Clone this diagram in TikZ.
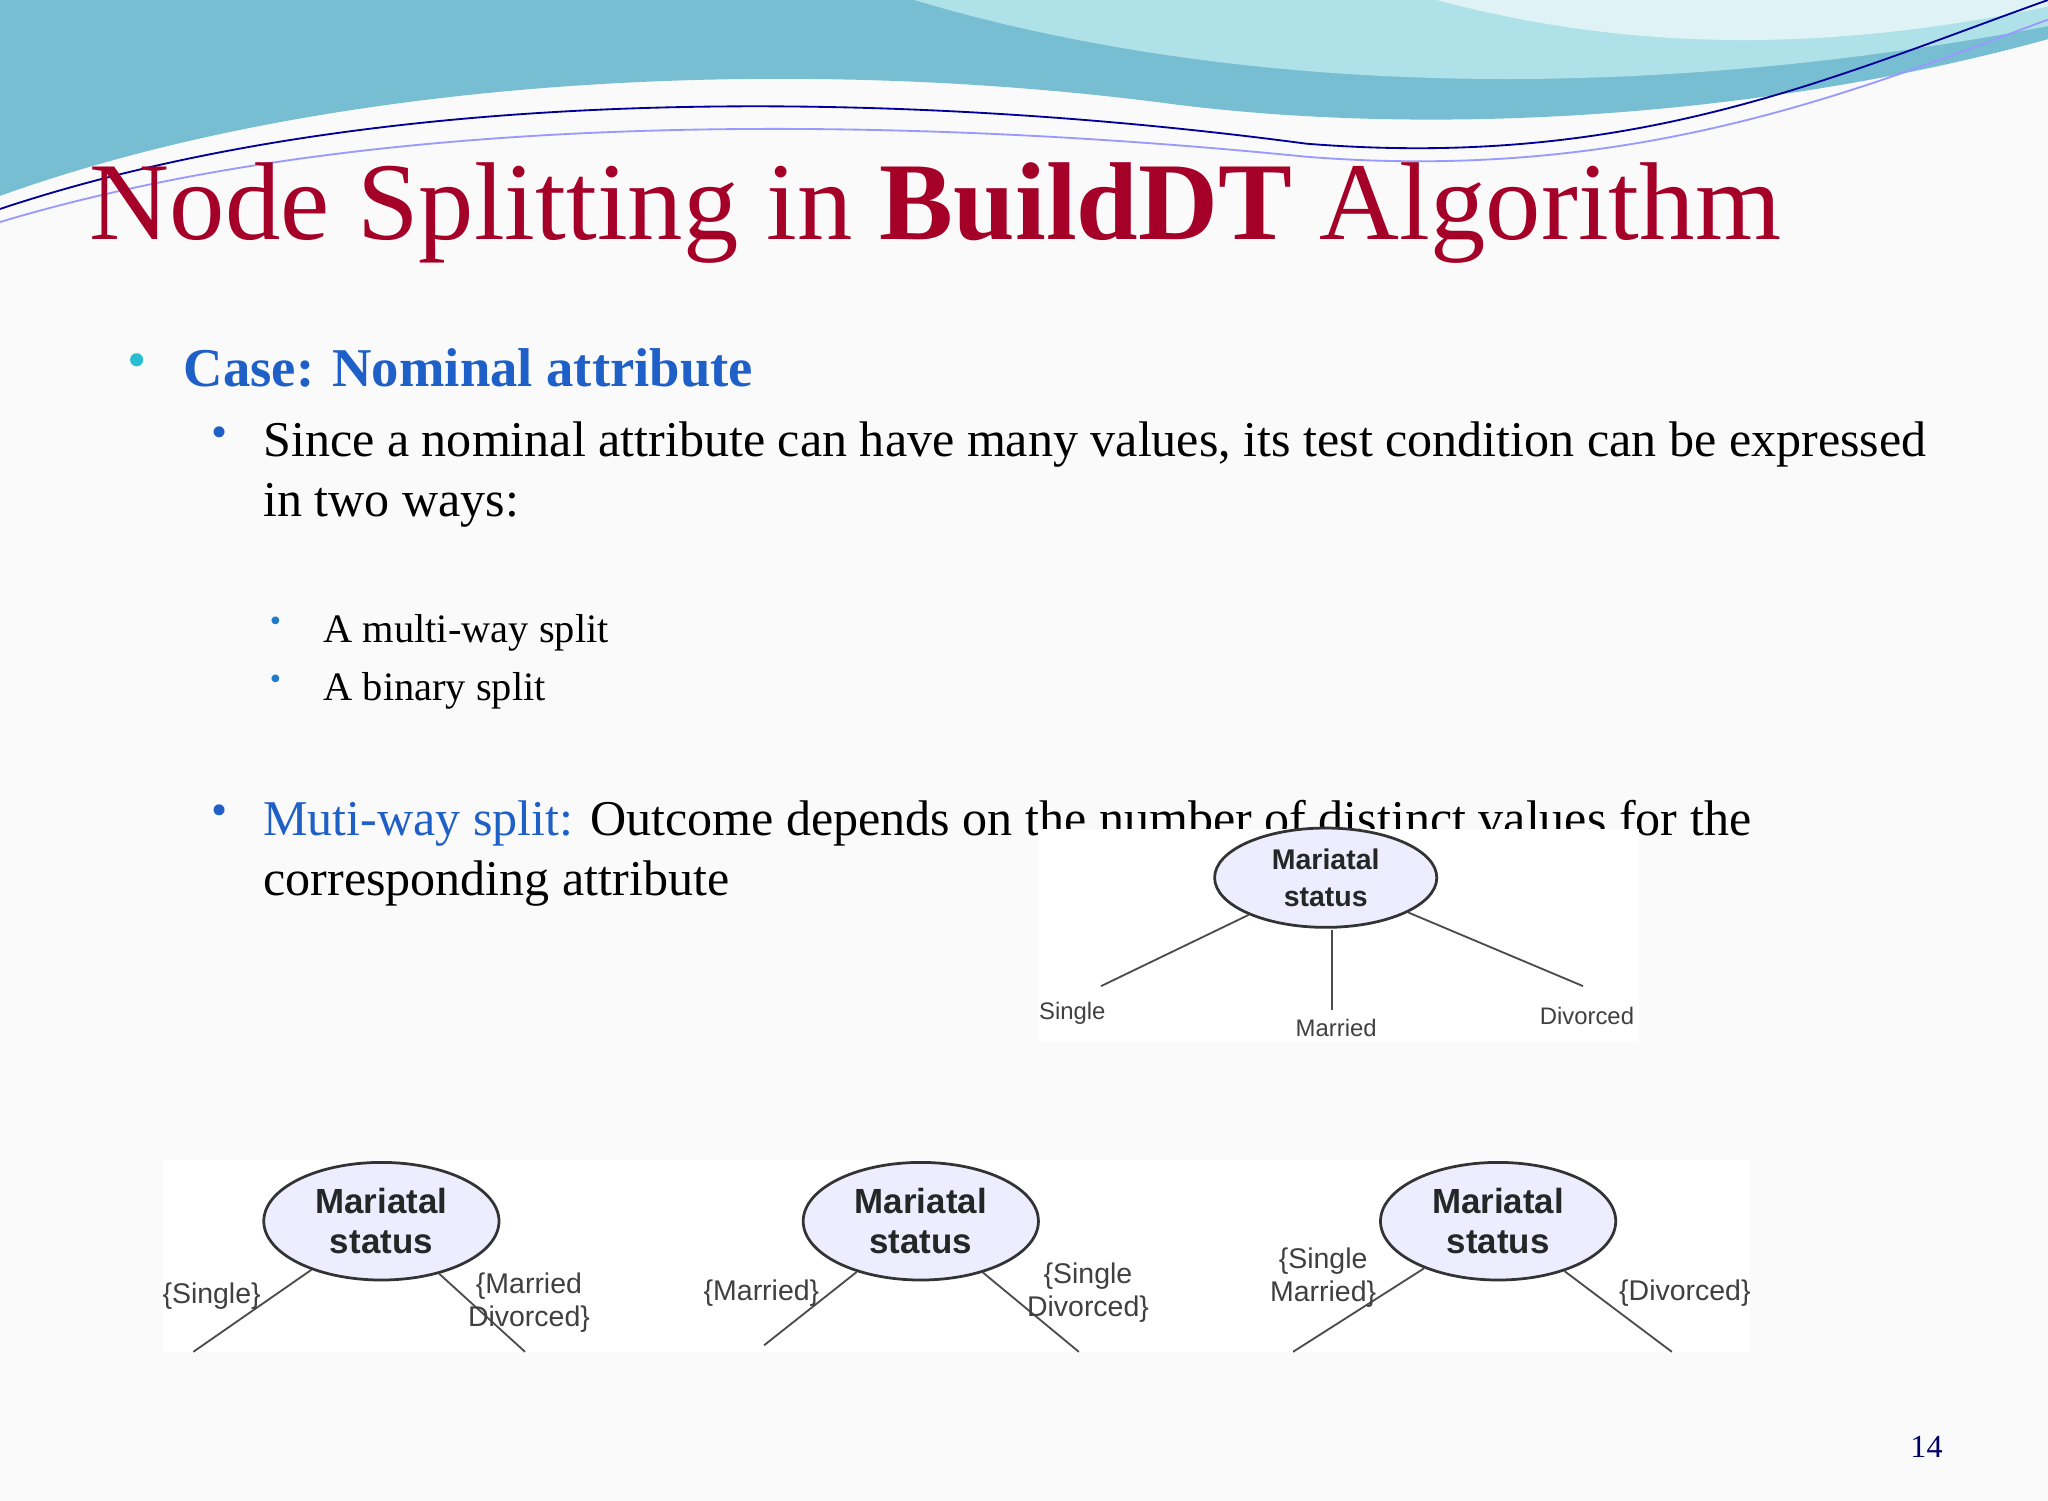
\documentclass[tikz,border=0pt]{standalone}
\usepackage{fontspec}
\setmainfont{Liberation Serif}
\setsansfont{Liberation Sans}
\usetikzlibrary{shapes.geometric}
\definecolor{titlered}{RGB}{165,0,40}
\definecolor{headblue}{RGB}{30,95,200}
\definecolor{bulcyan}{RGB}{40,190,210}
\definecolor{wave1}{RGB}{120,190,210}
\definecolor{wave2}{RGB}{175,225,232}
\tikzset{
  attr/.style={ellipse,draw=black!80,semithick,fill=blue!7,minimum width=1.8cm,minimum height=0.9cm,inner sep=0pt,
    align=center,font=\sffamily\bfseries\fontsize{7.6}{8.8}\selectfont,text=black!85},
  sattr/.style={attr,minimum width=1.7cm,minimum height=0.76cm,font=\sffamily\bfseries\fontsize{6.2}{8}\selectfont},
  val/.style={align=center,font=\sffamily\fontsize{6.2}{7.2}\selectfont,text=black!75},
  sval/.style={val,font=\sffamily\fontsize{5.2}{6.2}\selectfont},
  branch/.style={draw,thin,black!70}
}
\begin{document}
\begin{tikzpicture}[x=0.01cm,y=-0.01cm]
\useasboundingbox (0,0) rectangle (1568,1149);
\fill[black!2] (0,0) rectangle (1568,1149);

% waves at the top
\fill[wave1] (0,0) -- (0,150) .. controls (250,60) and (600,40) .. (900,80) .. controls (1100,105) and (1350,90) .. (1568,30) -- (1568,0) -- cycle;
\fill[wave2] (700,0) .. controls (900,60) and (1200,90) .. (1568,20) -- (1568,0) -- cycle;
\fill[white!60!wave2] (1100,0) .. controls (1250,40) and (1400,40) .. (1568,5) -- (1568,0) -- cycle;
\draw[blue!60!black,thin] (0,160) .. controls (300,60) and (700,70) .. (1000,110) .. controls (1250,130) and (1400,60) .. (1568,0);
\draw[blue!40,thin] (0,170) .. controls (300,80) and (700,90) .. (1000,120) .. controls (1250,140) and (1420,70) .. (1568,15);

% text
\node[anchor=base west,text=titlered,font=\fontsize{24.1}{28}\selectfont,inner sep=0] (title) at (68,183) {Node Splitting in \textbf{BuildDT} Algorithm};
\node[text=bulcyan,font=\fontsize{12}{14}\selectfont] (b1) at (105,280) {\textbullet};
\node[anchor=base west,text=headblue,font=\bfseries\fontsize{11.9}{14}\selectfont,inner sep=0] (case) at (140,296) {Case: Nominal attribute};
\node[text=headblue,font=\fontsize{10}{12}\selectfont] (b2) at (168,335) {\textbullet};
\node[anchor=north west,align=left,font=\fontsize{10.9}{13.1}\selectfont,inner sep=0] (since) at (201,322)
  {Since a nominal attribute can have many values, its test condition can be expressed\\in two ways:};
\node[text=headblue!70!bulcyan,font=\fontsize{7}{8}\selectfont] (b3) at (211,478) {\textbullet};
\node[anchor=base west,font=\fontsize{8.8}{10}\selectfont,inner sep=0] (multi) at (247,492) {A multi-way split};
\node[text=headblue!70!bulcyan,font=\fontsize{7}{8}\selectfont] (b4) at (211,522) {\textbullet};
\node[anchor=base west,font=\fontsize{8.8}{10}\selectfont,inner sep=0] (binary) at (247,536) {A binary split};
\node[text=headblue,font=\fontsize{10}{12}\selectfont] (b5) at (168,624) {\textbullet};
\node[anchor=north west,align=left,font=\fontsize{10.9}{13.1}\selectfont,inner sep=0] (muti) at (201,612)
  {\textcolor{headblue}{Muti-way split:} Outcome depends on the number of distinct values for the\\corresponding attribute};
\node[text=blue!40!black,font=\fontsize{7}{8}\selectfont] (page) at (1475,1108) {14};

% multi-way tree
\fill[white] (795,635) rectangle (1255,797);
\node[sattr] (root) at (1015,672) {Mariatal\\status};
\coordinate (eS) at (843,755);
\coordinate (eM) at (1020,773);
\coordinate (eD) at (1212,755);
\draw[branch] (root) -- (eS);
\draw[branch] (1020,712) coordinate (rm) -- (eM);
\draw[branch] (root) -- (eD);
\node[sval] (single) at (821,776) {Single};
\node[sval] (married) at (1023,787) {Married};
\node[sval] (divorced) at (1215,778) {Divorced};

% binary trees
\fill[white] (125,888) rectangle (1340,1035);
\node[attr] (ta) at (292,935) {Mariatal\\status};
\coordinate (a1) at (148,1035);
\coordinate (a2) at (402,1035);
\draw[branch] (ta) -- (a1);
\draw[branch] (ta) -- (a2);
\node[val] (la1) at (162,992) {\{Single\}};
\node[val] (la2) at (405,997) {\{Married\\Divorced\}};

\node[attr] (tb) at (705,935) {Mariatal\\status};
\coordinate (b1e) at (585,1030);
\coordinate (b2e) at (826,1035);
\draw[branch] (tb) -- (b1e);
\draw[branch] (tb) -- (b2e);
\node[val] (lb1) at (583,990) {\{Married\}};
\node[val] (lb2) at (833,990) {\{Single\\Divorced\}};

\node[attr] (tc) at (1147,935) {Mariatal\\status};
\coordinate (c1) at (990,1035);
\coordinate (c2) at (1280,1035);
\draw[branch] (tc) -- (c1);
\draw[branch] (tc) -- (c2);
\node[val] (lc1) at (1013,978) {\{Single\\Married\}};
\node[val] (lc2) at (1290,990) {\{Divorced\}};
\end{tikzpicture}
\end{document}
